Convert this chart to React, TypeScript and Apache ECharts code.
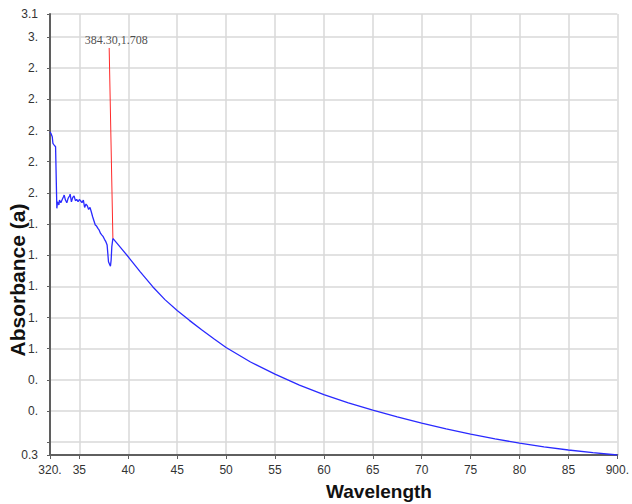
import React, { useEffect, useRef } from "react";
import * as echarts from "echarts";

// Spectrum data (wavelength in nm, absorbance)
const wavelength = [
  320.0, 320.9, 322.3, 323.0, 324.3, 325.7, 327.0, 327.7, 329.1, 329.7,
  331.1, 332.5, 333.8, 334.5, 335.8, 337.2, 338.5, 339.9, 340.6, 341.9,
  343.3, 344.6, 346.0, 347.3, 348.7, 350.0, 351.4, 352.7, 354.1, 355.4,
  356.8, 358.2, 359.5, 360.9, 362.2, 363.6, 364.9, 366.3, 367.6, 369.0,
  370.3, 371.7, 373.1, 374.4, 375.7, 377.1, 378.4, 379.1, 379.8, 381.2,
  381.8, 382.5, 383.2, 384.3, 392.0, 400.0, 412.5, 425.0, 437.5, 450.0,
  462.5, 475.0, 487.5, 500.0, 525.0, 550.0, 575.0, 600.0, 625.0, 650.0,
  675.0, 700.0, 725.0, 750.0, 775.0, 800.0, 825.0, 850.0, 875.0, 900.0,
];
const absorbance = [
  2.392, 2.382, 2.360, 2.318, 2.307, 2.296, 1.901, 1.943, 1.922, 1.954,
  1.937, 1.958, 1.975, 1.986, 1.954, 1.937, 1.965, 1.980, 1.992, 1.943,
  1.971, 1.980, 1.950, 1.958, 1.943, 1.958, 1.948, 1.937, 1.954, 1.907,
  1.928, 1.916, 1.894, 1.907, 1.879, 1.847, 1.821, 1.794, 1.787, 1.772,
  1.761, 1.740, 1.729, 1.719, 1.702, 1.687, 1.665, 1.612, 1.558, 1.537,
  1.530, 1.569, 1.655, 1.708, 1.650, 1.590, 1.492, 1.398, 1.315, 1.245,
  1.182, 1.122, 1.064, 1.008, 0.915, 0.837, 0.767, 0.705, 0.652, 0.606,
  0.563, 0.523, 0.486, 0.452, 0.421, 0.394, 0.370, 0.350, 0.333, 0.318,
];

// Peak marker (annotation line from label to the point)
const peakX = 384.3;
const peakY = 1.708;
const markerTop = [380.5, 2.93];

// Axis ticks and their (truncated) labels as shown
const xTickValues = [320, 350, 400, 450, 500, 550, 600, 650, 700, 750, 800, 850, 900];
const xTickLabels = ["320.", "35", "40", "45", "50", "55", "60", "65", "70", "75", "80", "85", "900."];
const yTickValues = [0.318, 0.4, 0.6, 0.8, 1.0, 1.2, 1.4, 1.6, 1.8, 2.0, 2.2, 2.4, 2.6, 2.8, 3.0, 3.148];
const yTickLabels = ["0.3", "", "0.", "0.", "1.", "1.", "1.", "1.", "1.", "2.", "2.", "2.", "2.", "2.", "3.", "3.1"];

const xTitle = "Wavelength";
const yTitle = "Absorbance (a)";

function lookup(values: number[], labels: string[], v: number) {
  const i = values.findIndex((t) => Math.abs(t - v) < 1e-6);
  return i >= 0 ? labels[i] : "";
}

export default function App() {
  const ref = useRef<HTMLDivElement>(null);
  useEffect(() => {
    if (!ref.current) return;
    const chart = echarts.init(ref.current, null, { renderer: "svg" });
    const lineData = wavelength.map((x, i) => [x, absorbance[i]]);
    const gridColor = "#d9d9d9";
    const axisColor = "#5f5f5f";
    chart.setOption({
      animation: false,
      backgroundColor: "#fff",
      grid: { left: 50, right: 10, top: 14, bottom: 49, containLabel: false },
      xAxis: {
        type: "value",
        min: xTickValues[0],
        max: xTickValues[xTickValues.length - 1],
        minInterval: 50,
        maxInterval: 50,
        splitNumber: 12,
        axisLine: { show: true, onZero: false, lineStyle: { color: axisColor, width: 2 } },
        axisTick: { show: true, length: 4, lineStyle: { color: axisColor, width: 1 } },
        axisLabel: {
          color: "#333",
          fontSize: 12,
          fontFamily: "Liberation Sans, Arial, sans-serif",
          margin: 9,
          showMinLabel: true,
          showMaxLabel: true,
          formatter: (v: number) => lookup(xTickValues, xTickLabels, v),
        },
        splitLine: { show: true, lineStyle: { color: gridColor, width: 1.5 } },
      },
      yAxis: {
        type: "value",
        min: yTickValues[0],
        max: yTickValues[yTickValues.length - 1],
        minInterval: 0.2,
        maxInterval: 0.2,
        splitNumber: 14,
        axisLine: { show: true, onZero: false, lineStyle: { color: axisColor, width: 2 } },
        axisTick: { show: true, length: 3, lineStyle: { color: axisColor, width: 1 } },
        axisLabel: {
          color: "#333",
          fontSize: 12,
          fontFamily: "Liberation Sans, Arial, sans-serif",
          margin: 12,
          showMinLabel: true,
          showMaxLabel: true,
          formatter: (v: number) => lookup(yTickValues, yTickLabels, v),
        },
        splitLine: { show: true, lineStyle: { color: gridColor, width: 1.5 } },
      },
      series: [
        {
          type: "line",
          data: lineData,
          showSymbol: false,
          lineStyle: { color: "#2a2aff", width: 1.3 },
          z: 3,
        },
        {
          type: "line",
          data: [markerTop, [peakX, peakY]],
          showSymbol: false,
          lineStyle: { color: "#ff2a2a", width: 1 },
          z: 4,
        },
        {
          type: "scatter",
          data: [markerTop],
          symbolSize: 1,
          itemStyle: { color: "rgba(0,0,0,0)" },
          label: {
            show: true,
            position: "top",
            distance: 1,
            offset: [7, 0],
            formatter: () => `${peakX.toFixed(2)},${peakY.toFixed(3)}`,
            fontFamily: "Liberation Serif, Times New Roman, serif",
            fontSize: 12,
            color: "#222",
          },
          z: 5,
        },
      ],
      graphic: [
        {
          type: "text",
          x: 17,
          y: 280,
          rotation: Math.PI / 2,
          style: {
            text: yTitle,
            fill: "#111",
            fontSize: 21,
            fontWeight: "bold",
            fontFamily: "Liberation Sans, Arial, sans-serif",
            align: "center",
            verticalAlign: "middle",
          },
        },
        {
          type: "text",
          x: 379,
          y: 491,
          style: {
            text: xTitle,
            fill: "#111",
            fontSize: 19,
            fontWeight: "bold",
            fontFamily: "Liberation Sans, Arial, sans-serif",
            align: "center",
            verticalAlign: "middle",
          },
        },
      ],
    });
    return () => chart.dispose();
  }, []);
  return (
    <div
      ref={ref}
      style={{ position: "absolute", left: 0, top: 0, width: 632, height: 504 }}
    />
  );
}
